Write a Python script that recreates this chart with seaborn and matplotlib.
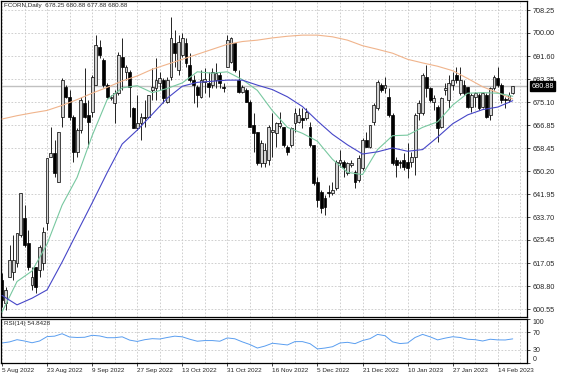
import matplotlib
matplotlib.use("Agg")
import matplotlib.pyplot as plt
import matplotlib.transforms as mtransforms
import seaborn as sns
import numpy as np

# FCORN daily candles (bar 0 = 5 Aug 2022)
opens = [611.05, 602.65, 612.25, 614.05, 617.05, 627.25, 633.25, 624.25, 609.25, 615.85,
         614.65, 617.05, 631.45, 655.45, 656.65, 646.45, 669.85, 680.65, 677.05, 669.85,
         657.25, 665.05, 674.65, 670.45, 671.65, 681.25, 695.05, 690.25, 681.25, 676.45,
         674.65, 678.25, 691.45, 686.05, 686.05, 672.85, 665.65, 667.45, 669.60, 669.85,
         679.60, 680.05, 681.85, 683.05, 675.25, 684.25, 696.25, 686.65, 692.05, 696.25,
         688.45, 683.05, 680.65, 677.05, 682.45, 681.85, 681.25, 683.05, 684.85, 680.65,
         687.85, 689.65, 696.25, 683.05, 678.85, 679.45, 675.25, 666.85, 664.45, 653.05,
         653.05, 654.25, 664.45, 663.85, 666.55, 666.25, 659.05, 659.65, 667.45, 668.05,
         669.25, 669.25, 666.25, 659.65, 646.45, 642.85, 640.45, 642.85, 642.25, 644.05,
         653.05, 653.65, 649.45, 652.45, 650.05, 647.05, 651.25, 661.45, 659.05, 668.05,
         672.85, 681.25, 680.05, 677.05, 670.45, 654.25, 653.65, 654.25, 653.65, 653.65,
         655.45, 671.05, 671.05, 684.25, 680.05, 675.25, 673.45, 666.25, 679.45, 675.85,
         681.25, 684.85, 678.25, 681.25, 680.65, 673.45, 677.05, 677.65, 673.45, 677.65,
         670.45, 680.05, 683.65, 681.25, 676.05, 675.85, 678.25]
highs = [613.45, 608.65, 623.65, 627.25, 627.85, 642.25, 638.05, 629.05, 615.85, 615.85,
         623.65, 630.25, 654.85, 666.25, 661.45, 664.45, 683.65, 681.25, 679.45, 670.45,
         665.65, 677.05, 687.25, 675.85, 684.85, 699.25, 697.45, 690.85, 681.85, 677.65,
         679.45, 693.25, 698.05, 688.45, 686.65, 673.45, 677.65, 671.05, 675.85, 677.65,
         687.25, 690.85, 686.05, 683.65, 684.25, 705.85, 701.05, 699.25, 699.85, 698.05,
         692.65, 684.85, 681.25, 686.65, 687.25, 686.05, 687.25, 689.05, 686.05, 681.85,
         699.25, 698.65, 696.25, 686.65, 681.25, 680.05, 675.85, 671.05, 664.45, 661.45,
         660.25, 666.85, 671.05, 668.05, 671.65, 666.25, 659.65, 666.25, 672.85, 672.85,
         672.85, 672.85, 668.05, 659.65, 648.25, 643.45, 641.65, 645.25, 646.45, 654.25,
         657.85, 654.25, 653.65, 654.25, 650.65, 656.05, 662.05, 664.45, 666.85, 674.65,
         683.05, 681.85, 684.25, 680.05, 671.05, 655.45, 654.25, 656.65, 660.25, 657.25,
         671.05, 675.85, 685.45, 688.45, 680.65, 677.65, 674.05, 677.05, 681.85, 684.85,
         686.05, 687.85, 687.85, 683.05, 680.65, 678.25, 678.85, 678.25, 678.85, 678.25,
         680.65, 684.85, 687.85, 681.85, 677.05, 678.85, 680.88]
lows = [601.45, 600.25, 612.25, 611.05, 615.85, 626.65, 623.05, 614.65, 607.45, 606.25,
        612.25, 614.65, 629.05, 655.45, 648.25, 646.45, 666.25, 676.45, 668.65, 653.65,
        655.45, 663.85, 669.25, 659.05, 669.85, 681.25, 690.85, 680.65, 676.45, 675.85,
        667.45, 677.65, 679.45, 683.05, 669.85, 665.65, 665.05, 661.45, 666.25, 669.25,
        675.85, 675.85, 679.45, 674.65, 674.65, 683.05, 687.85, 684.85, 691.45, 687.85,
        682.45, 674.65, 673.45, 676.45, 678.25, 677.05, 680.05, 680.05, 680.05, 678.85,
        687.85, 689.05, 686.05, 678.25, 678.25, 675.25, 666.25, 657.25, 652.45, 651.85,
        651.85, 652.45, 655.45, 659.05, 665.65, 659.05, 656.05, 659.05, 664.45, 667.45,
        665.65, 668.65, 659.05, 645.25, 637.45, 635.05, 634.45, 641.05, 641.65, 643.45,
        651.85, 648.25, 648.85, 651.85, 644.05, 646.45, 650.65, 659.05, 658.45, 666.85,
        672.25, 678.85, 678.25, 669.85, 652.45, 648.25, 651.25, 650.65, 647.65, 651.85,
        648.85, 668.65, 670.45, 677.05, 675.25, 672.25, 660.85, 665.65, 677.65, 672.85,
        679.45, 681.85, 677.65, 677.65, 672.85, 671.65, 673.45, 672.25, 672.85, 669.25,
        668.65, 679.45, 680.65, 674.65, 672.85, 675.25, 677.88]
closes = [603.85, 607.45, 618.25, 618.25, 627.85, 642.25, 623.65, 615.85, 612.25, 608.65,
          623.05, 628.45, 654.85, 656.65, 649.45, 664.45, 683.05, 677.05, 669.85, 657.25,
          665.05, 675.85, 669.85, 668.05, 684.25, 695.65, 692.05, 681.25, 677.05, 677.05,
          678.25, 692.05, 687.85, 687.85, 680.65, 665.65, 667.45, 669.85, 669.25, 677.65,
          680.40, 683.05, 683.65, 676.45, 683.05, 698.05, 692.65, 696.85, 698.05, 689.05,
          683.05, 681.25, 677.65, 683.05, 683.30, 680.65, 686.05, 685.45, 681.85, 680.05,
          697.45, 698.05, 686.65, 678.85, 680.65, 675.25, 666.25, 663.85, 653.05, 660.25,
          657.85, 666.25, 665.05, 667.45, 667.45, 659.65, 657.25, 665.65, 671.05, 670.45,
          668.65, 671.65, 659.65, 645.85, 639.85, 636.85, 637.45, 642.25, 643.45, 653.65,
          654.25, 651.85, 653.05, 653.05, 646.45, 654.85, 661.45, 659.05, 666.85, 674.05,
          682.45, 679.45, 681.25, 670.45, 653.05, 652.45, 653.05, 651.85, 651.25, 655.45,
          670.45, 674.65, 684.85, 680.05, 675.85, 676.45, 665.65, 676.45, 680.05, 681.85,
          683.05, 683.05, 683.05, 678.25, 673.45, 677.65, 678.25, 672.85, 678.25, 669.85,
          680.05, 684.25, 681.25, 675.85, 675.85, 677.65, 680.88]

# moving averages, read every 4 bars
ma_bars = [0, 4, 8, 12, 16, 20, 24, 28, 32, 36, 40, 44, 48, 52, 56, 60, 64, 68, 72, 76,
           80, 84, 88, 92, 96, 100, 104, 108, 112, 116, 120, 124, 128, 132, 136]
ma_fast = [599.5, 610.5, 614.3, 624.0, 638.0, 648.0, 663.0, 676.0, 680.2, 681.0,
           678.5, 680.0, 682.0, 686.0, 685.5, 686.0, 683.2, 679.3, 672.0, 666.0,
           663.85, 661.0, 654.5, 649.8, 649.0, 658.0, 663.0, 663.2, 666.0, 668.0,
           674.0, 678.3, 678.5, 678.3, 677.2]
ma_mid = [605.5, 602.1, 604.5, 607.5, 617.5, 628.2, 638.8, 649.7, 660.0, 665.0,
          670.7, 676.5, 680.8, 682.2, 682.6, 683.0, 683.0, 681.2, 679.6, 677.0,
          673.5, 668.3, 663.5, 659.7, 656.4, 657.2, 658.6, 657.4, 658.0, 662.5,
          667.3, 670.5, 672.4, 673.3, 675.6]
ma_slow = [669.0, 670.2, 671.2, 672.1, 673.9, 676.0, 678.3, 680.4, 682.7, 684.5,
           686.9, 688.7, 690.5, 692.3, 694.1, 695.9, 696.9, 697.4, 698.2, 698.8,
           699.2, 699.2, 698.6, 697.4, 695.4, 694.1, 692.7, 690.5, 689.2, 688.0,
           686.4, 683.6, 680.6, 678.5, 676.2]

# RSI(14), read every 2 bars
rsi_bars = list(range(0, 137, 2))
rsi_vals = [45.5, 47.9, 53.0, 50.0, 46.0, 50.0, 60.0, 61.0, 66.5, 59.0,
            58.0, 58.5, 63.0, 61.5, 57.5, 57.5, 59.5, 52.0, 49.0, 53.0,
            55.3, 54.5, 58.0, 61.0, 59.5, 54.0, 49.5, 51.0, 51.0, 49.5,
            57.0, 55.0, 48.0, 42.0, 34.0, 38.5, 44.9, 43.0, 41.0, 48.6,
            48.6, 44.0, 32.0, 34.0, 37.0, 45.5, 47.0, 44.0, 51.0, 55.3,
            65.0, 62.0, 48.0, 44.2, 45.5, 58.0, 65.0, 59.5, 52.5, 56.5,
            59.7, 58.0, 54.0, 53.0, 50.0, 54.0, 52.5, 52.3, 54.84]

price_ticks = [708.25, 700.00, 691.60, 683.35, 675.10, 666.85, 658.45, 650.20,
               641.95, 633.70, 625.45, 617.05, 608.80, 600.55]
date_bars = [0, 12, 24, 36, 48, 60, 72, 84, 96, 108, 120, 132]
date_labels = ["5 Aug 2022", "23 Aug 2022", "9 Sep 2022", "27 Sep 2022", "13 Oct 2022",
               "31 Oct 2022", "16 Nov 2022", "5 Dec 2022", "21 Dec 2022", "10 Jan 2023",
               "27 Jan 2023", "14 Feb 2023"]

sns.set_style("white")
plt.rcParams['font.family'] = ['Liberation Sans', 'DejaVu Sans']

GRID = '#c8c8c8'
fig = plt.figure(figsize=(5.64, 3.76), dpi=100)
ax = fig.add_axes([1 / 564, 59 / 376, 526 / 564, 316 / 376])
ax_rsi = fig.add_axes([1 / 564, 13 / 376, 526 / 564, 44 / 376], sharex=ax)

idx = np.arange(len(closes))
o = np.array(opens)
c = np.array(closes)
up = c >= o

# grid first, under everything
for b in range(0, 140, 6):
    for a in (ax, ax_rsi):
        a.axvline(b, color=GRID, lw=0.6, ls=(0, (2, 2)), zorder=0)
for p in price_ticks:
    ax.axhline(p, color=GRID, lw=0.6, ls=(0, (2, 2)), zorder=0)
for r in (30, 70):
    ax_rsi.axhline(r, color=GRID, lw=0.6, ls=(0, (2, 2)), zorder=0)

# current price line
ax.axhline(closes[-1], color='#c0c0c0', lw=1.0, zorder=1)

# candles
ax.vlines(idx, lows, highs, color='black', lw=0.6, zorder=2)
ax.bar(idx[up], (c - o)[up], bottom=o[up], width=0.75, color='#d4d4d4',
       edgecolor='black', lw=0.5, zorder=3)
ax.bar(idx[~up], (o - c)[~up], bottom=c[~up], width=0.75, color='black',
       edgecolor='black', lw=0.5, zorder=3)

sns.lineplot(x=ma_bars, y=ma_slow, ax=ax, color='#f0b48c', lw=0.8, zorder=4)
sns.lineplot(x=ma_bars, y=ma_fast, ax=ax, color='#78c8a0', lw=0.8, zorder=4)
sns.lineplot(x=ma_bars, y=ma_mid, ax=ax, color='#4646c8', lw=0.8, zorder=4)

sns.lineplot(x=rsi_bars, y=rsi_vals, ax=ax_rsi, color='#5a9ef0', lw=0.7)

ax.set_xlim(-0.27, 139.8)
ax.set_ylim(597.73, 711.49)
ax_rsi.set_ylim(0, 100)

# right price scale
ax.yaxis.tick_right()
ax.set_yticks(price_ticks)
ax.set_yticklabels([f"{p:.2f}" for p in price_ticks])
ax.tick_params(axis='y', right=True, length=2.5, width=0.6, pad=1.5, labelsize=5.2)
ax.tick_params(axis='x', bottom=False, labelbottom=False)
ax.set_xlabel("")
ax.set_ylabel("")

ax_rsi.yaxis.tick_right()
ax_rsi.set_yticks([0, 30, 70, 100])
ax_rsi.set_yticklabels(["0", "30", "70", "100"])
ax_rsi.tick_params(axis='y', right=True, length=2.5, width=0.6, pad=1.5, labelsize=5)
lbls = ax_rsi.get_yticklabels()
lbls[0].set_va('bottom')
lbls[-1].set_va('top')
ax_rsi.set_xticks(date_bars)
ax_rsi.set_xticklabels(date_labels, ha='left')
ax_rsi.tick_params(axis='x', bottom=True, length=2, width=0.6, pad=1.5, labelsize=4.6)
ax_rsi.set_xlabel("")
ax_rsi.set_ylabel("")

for a in (ax, ax_rsi):
    for s in a.spines.values():
        s.set_color('black')
        s.set_linewidth(0.9)

# last price box on the scale
trans = mtransforms.blended_transform_factory(ax.transAxes, ax.transData)
ax.text(1.008, closes[-1], f"{closes[-1]:.2f}", transform=trans, fontsize=5.2,
        color='white', va='center', ha='left',
        bbox=dict(boxstyle='square,pad=0.15', fc='black', ec='black'))

ax.text(0.005, 0.993, "FCORN,Daily  678.25 680.88 677.88 680.88", transform=ax.transAxes,
        fontsize=4.5, va='top', ha='left')
ax_rsi.text(0.005, 0.95, "RSI(14) 54.8428", transform=ax_rsi.transAxes,
            fontsize=4.5, va='top', ha='left')

fig.savefig("out.png", dpi=100)
